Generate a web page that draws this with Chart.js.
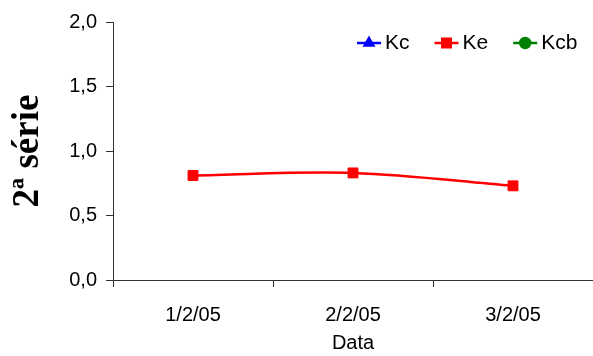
<!DOCTYPE html>
<html>
<head>
<meta charset="utf-8">
<script src="https://cdn.jsdelivr.net/npm/chart.js@4/dist/chart.umd.min.js"></script>
<style>
  html, body { margin: 0; padding: 0; background: #fff; }
  #wrap { width: 593px; height: 356px; }
</style>
</head>
<body>
<div id="wrap"><canvas id="chart"></canvas></div>
<script>
// ─── DADOS ──────────────────────────────────────────────────────
const labels = ["1/2/05", "2/2/05", "3/2/05"];
const kc  = [null, null, null];
const ke  = [0.81, 0.83, 0.73];
const kcb = [null, null, null];
const yTicks = [0, 0.5, 1.0, 1.5, 2.0];

const FONT = "'Liberation Sans', Arial, sans-serif";
const AXIS = "#333";

// legenda dentro da área do gráfico (estilo Excel: linha + marcador)
const insideLegend = {
  id: "insideLegend",
  afterDraw(chart) {
    const ctx = chart.ctx;
    let x = 357;
    const y = 43;
    ctx.save();
    ctx.font = "21px " + FONT;
    ctx.textBaseline = "middle";
    chart.data.datasets.forEach(ds => {
      ctx.strokeStyle = ds.borderColor;
      ctx.fillStyle = ds.backgroundColor;
      ctx.lineWidth = 2.5;
      ctx.beginPath();
      ctx.moveTo(x, y);
      ctx.lineTo(x + 24, y);
      ctx.stroke();
      Chart.helpers.drawPoint(ctx, {
        pointStyle: ds.pointStyle, radius: ds.pointStyle === "rect" ? 6 : 5,
        rotation: 0, borderWidth: 1,
      }, x + 12, y);
      ctx.fillStyle = "#000";
      ctx.fillText(ds.label, x + 28, y);
      x += 28 + ctx.measureText(ds.label).width + 25;
    });
    ctx.restore();
  },
};

function serie(label, data, color, style) {
  return {
    label, data,
    borderColor: color,
    backgroundColor: color,
    pointStyle: style,
    pointRadius: style === "rect" ? 7 : 5,
    pointBorderWidth: 1,
    borderWidth: 2.5,
    tension: 0.35,
    spanGaps: false,
  };
}

new Chart(document.getElementById("chart"), {
  type: "line",
  data: {
    labels,
    datasets: [
      serie("Kc", kc, "#0000FF", "triangle"),
      serie("Ke", ke, "#FF0000", "rect"),
      serie("Kcb", kcb, "#008000", "circle"),
    ],
  },
  options: {
    responsive: true,
    maintainAspectRatio: false,
    animation: false,
    layout: { autoPadding: false, padding: { top: 22, right: 0, left: 0, bottom: 0 } },
    plugins: { legend: { display: false }, tooltip: { enabled: false } },
    scales: {
      x: {
        offset: true,
        grid: { offset: true, drawOnChartArea: false, tickLength: 7, color: AXIS },
        border: { color: AXIS, width: 1 },
        ticks: { color: "#000", font: { family: FONT, size: 20 }, padding: 16, maxRotation: 0 },
        title: { display: true, text: "Data", color: "#000", font: { family: FONT, size: 20 }, padding: { top: 0, bottom: 1 } },
        afterFit: s => { s.height = 76; },
      },
      y: {
        min: 0, max: 2,
        afterBuildTicks: s => { s.ticks = yTicks.map(v => ({ value: v })); },
        grid: { drawOnChartArea: false, tickLength: 7, color: AXIS },
        border: { color: AXIS, width: 1 },
        ticks: {
          color: "#000", font: { family: FONT, size: 20 }, padding: 9,
          callback: v => v.toFixed(1).replace(".", ","),
        },
        title: { display: true, text: "2ª série", color: "#000", font: { family: "'Liberation Serif', 'Times New Roman', serif", size: 37, weight: "bold" }, padding: { top: 6, bottom: 0 } },
        afterFit: s => { s.width = 113; },
      },
    },
  },
  plugins: [insideLegend],
});
</script>
</body>
</html>
